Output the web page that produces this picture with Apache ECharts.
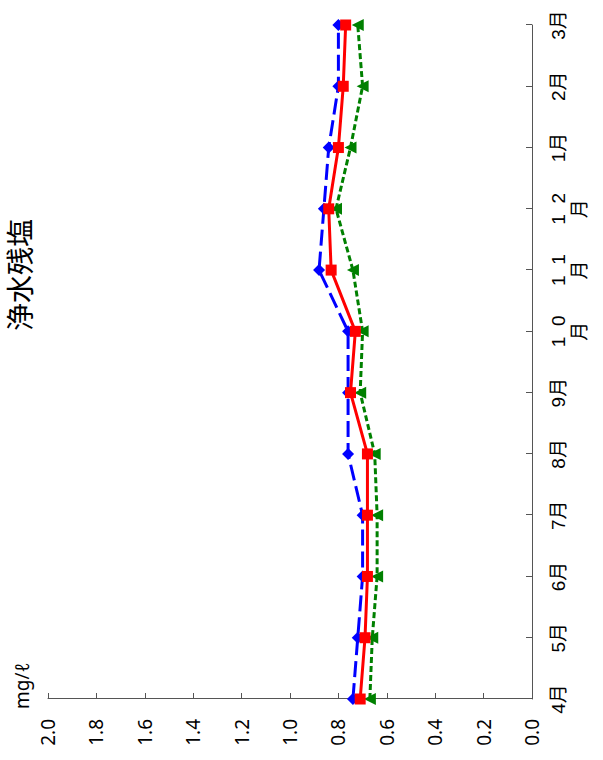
<!DOCTYPE html>
<html>
<head>
<meta charset="utf-8">
<script src="https://cdn.jsdelivr.net/npm/echarts@6/dist/echarts.min.js"></script>
<style>
html,body{margin:0;padding:0;overflow:hidden;background:#fff;width:603px;height:760px;}
#wrap{position:absolute;left:0;top:0;width:760px;height:603px;transform-origin:0 0;transform:translate(0,760px) rotate(-90deg);}
#chart{width:760px;height:603px;}
</style>
</head>
<body>
<div id="wrap"><div id="chart"></div></div>
<script>
const titleText = '浄水残塩';
const unitText = 'mg/ℓ';
const categories = ['4月','5月','6月','7月','8月','9月','1  0\n月','1  1\n月','1  2\n月','1月','2月','3月'];
const seriesBlue = [0.74,0.72,0.70,0.70,0.76,0.76,0.76,0.88,0.86,0.84,0.80,0.80];
const seriesGreen = [0.67,0.66,0.64,0.64,0.65,0.71,0.70,0.74,0.81,0.75,0.70,0.72];
const seriesRed = [0.71,0.69,0.68,0.68,0.68,0.75,0.73,0.83,0.84,0.80,0.78,0.77];
const valueMin = 0, valueMax = 2.0, valueStep = 0.2;

const chart = echarts.init(document.getElementById('chart'), null, {renderer:'svg'});
const axisColor = '#555';
chart.setOption({
  animation:false,
  title:{text:titleText,left:424,top:0,textStyle:{fontFamily:'"Noto Sans CJK JP"',fontSize:28,fontWeight:'normal',color:'#000'}},
  graphic:[{type:'text',left:51,top:12,style:{text:unitText,fontSize:19,fontFamily:'"Noto Sans"',fill:'#000'}}],
  grid:{left:61,right:25,top:48,bottom:71,containLabel:false},
  xAxis:{type:'category',data:categories,boundaryGap:false,
    axisLine:{lineStyle:{color:axisColor,width:1}},
    axisTick:{inside:true,length:6,alignWithLabel:true,lineStyle:{color:axisColor}},
    axisLabel:{margin:16,color:'#000',fontSize:19,lineHeight:21,fontFamily:'"Liberation Sans","Noto Sans CJK JP"',interval:0},
    splitLine:{show:false}},
  yAxis:{type:'value',min:valueMin,max:valueMax,interval:valueStep,
    axisLine:{show:true,lineStyle:{color:axisColor,width:1}},
    axisTick:{show:true,inside:true,length:6,lineStyle:{color:axisColor}},
    axisLabel:{margin:20,color:'#000',fontSize:19,fontFamily:'"Noto Sans"',formatter:v=>v.toFixed(1)},
    splitLine:{show:false}},
  series:[
    {type:'line',data:seriesBlue,symbol:'diamond',symbolSize:12,z:2,
      lineStyle:{color:'#0000ff',width:3,type:[16,6]},itemStyle:{color:'#0000ff',borderWidth:0}},
    {type:'line',data:seriesGreen,symbol:'triangle',symbolSize:12,z:3,
      lineStyle:{color:'#008000',width:3,type:[6,3]},itemStyle:{color:'#008000',borderWidth:0}},
    {type:'line',data:seriesRed,symbol:'rect',symbolSize:11,z:4,
      lineStyle:{color:'#ff0000',width:3},itemStyle:{color:'#ff0000',borderWidth:0}}
  ]
});
</script>
</body>
</html>
